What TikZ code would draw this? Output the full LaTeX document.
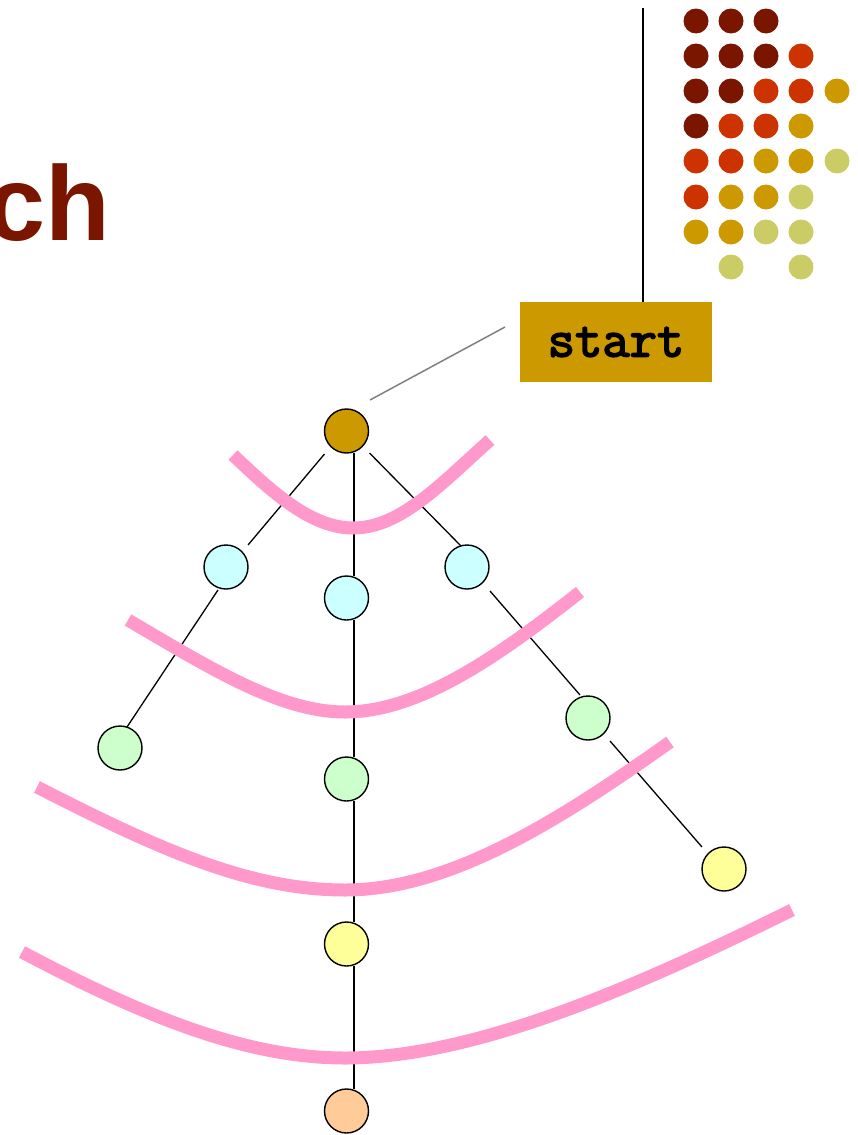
\documentclass[tikz,border=0pt]{standalone}
\usepackage{fontspec}
\newfontfamily\titlefont{Liberation Sans}
\newfontfamily\boxfont{Latin Modern Mono}[FakeBold=3]
\usetikzlibrary{calc}
\definecolor{darkred}{HTML}{7A1500}
\definecolor{redorange}{HTML}{CC3300}
\definecolor{gold}{HTML}{CC9900}
\definecolor{olive}{HTML}{CCCC66}
\definecolor{cyanfill}{HTML}{CCFFFF}
\definecolor{greenfill}{HTML}{CCFFCC}
\definecolor{yellowfill}{HTML}{FFFF99}
\definecolor{peachfill}{HTML}{FFCC99}
\definecolor{pinkline}{HTML}{FF99CC}
\tikzset{
  tnode/.style={circle, draw=black, line width=1.4pt, minimum size=44pt, inner sep=0pt},
  edge/.style={draw=black, line width=1.3pt},
  wave/.style={draw=pinkline, line width=13pt},
  startbox/.style={fill=gold, minimum width=192pt, minimum height=80pt, inner sep=0pt, font=\boxfont\fontsize{53}{53}\selectfont},
}
\begin{document}
\begin{tikzpicture}[x=1pt,y=-1pt]
\useasboundingbox (0,0) rectangle (858,1135);

% title fragment
\node[anchor=base east, inner sep=0pt, text=darkred, font=\titlefont\bfseries\fontsize{106}{106}\selectfont] (title) at (110,240) {ch};

% dot grid
\foreach \c/\x/\y in {
 darkred/696/21, darkred/731/21, darkred/766/21,
 darkred/696/56, darkred/731/56, darkred/766/56, redorange/801/56,
 darkred/696/91, darkred/731/91, redorange/766/91, redorange/801/91, gold/837/91,
 darkred/696/126, redorange/731/126, redorange/766/126, gold/801/126,
 redorange/696/161, redorange/731/161, gold/766/161, gold/801/161, olive/837/161,
 redorange/696/197, gold/731/197, gold/766/197, olive/801/197,
 gold/696/232, gold/731/232, olive/766/232, olive/801/232,
 olive/731/267, olive/801/267}
 \fill[\c] (\x,\y) circle (12.5);

% start box and its lines
\node[startbox] (start) at (616,342) {start};
\coordinate (topend) at (643,8);
\draw[line width=1.5pt] (topend) -- (start.north -| topend);
\coordinate (g1) at (505,327);
\coordinate (g2) at (370,400);
\draw[gray, line width=1.5pt] (g1) -- (g2);

% tree nodes
\node[tnode, fill=gold] (root) at (346.5,431) {};
\node[tnode, fill=cyanfill] (cL) at (226,567) {};
\node[tnode, fill=cyanfill] (cM) at (346.5,598) {};
\node[tnode, fill=cyanfill] (cR) at (467,567) {};
\node[tnode, fill=greenfill] (gL) at (120,748) {};
\node[tnode, fill=greenfill] (gM) at (346.5,779) {};
\node[tnode, fill=greenfill] (gR) at (588,718) {};
\node[tnode, fill=yellowfill] (yR) at (724,869) {};
\node[tnode, fill=yellowfill] (yM) at (346.5,944) {};
\node[tnode, fill=peachfill] (pk) at (346.5,1111) {};

% edges
\draw[edge] ($(root)+(-22,23)$) -- ($(cL)+(22,-22)$);
\draw[edge] ($(root)+(7.5,22)$) -- ($(cM)+(7.5,-22)$);
\draw[edge] ($(root)+(23,22)$) -- ($(cR)+(-6,-21)$);
\draw[edge] ($(cL)+(-8,23)$) -- ($(gL)+(7,-21)$);
\draw[edge] ($(cM)+(7.5,22)$) -- ($(gM)+(7.5,-22)$);
\draw[edge] ($(cR)+(23,24)$) -- ($(gR)+(-8,-23)$);
\draw[edge] ($(gR)+(22,23)$) -- ($(yR)+(-22,-22)$);
\draw[edge] ($(gM)+(7.5,22)$) -- ($(yM)+(7.5,-22)$);
\draw[edge] ($(yM)+(7.5,22)$) -- ($(pk)+(7.5,-22)$);

% pink frontier curves
\draw[wave] (233,455) .. controls (270,490) and (310,528) .. (353,528)
            .. controls (400,528) and (440,485) .. (490,440);
\draw[wave] (128,620) .. controls (210,668) and (280,712) .. (345,712)
            .. controls (420,712) and (500,655) .. (580,592);
\draw[wave] (37,787) .. controls (160,850) and (250,890) .. (345,890)
            .. controls (450,890) and (560,820) .. (670,742);
\draw[wave] (22,952) .. controls (150,1020) and (250,1058) .. (345,1058)
            .. controls (480,1058) and (650,980) .. (792,910);
\end{tikzpicture}
\end{document}
